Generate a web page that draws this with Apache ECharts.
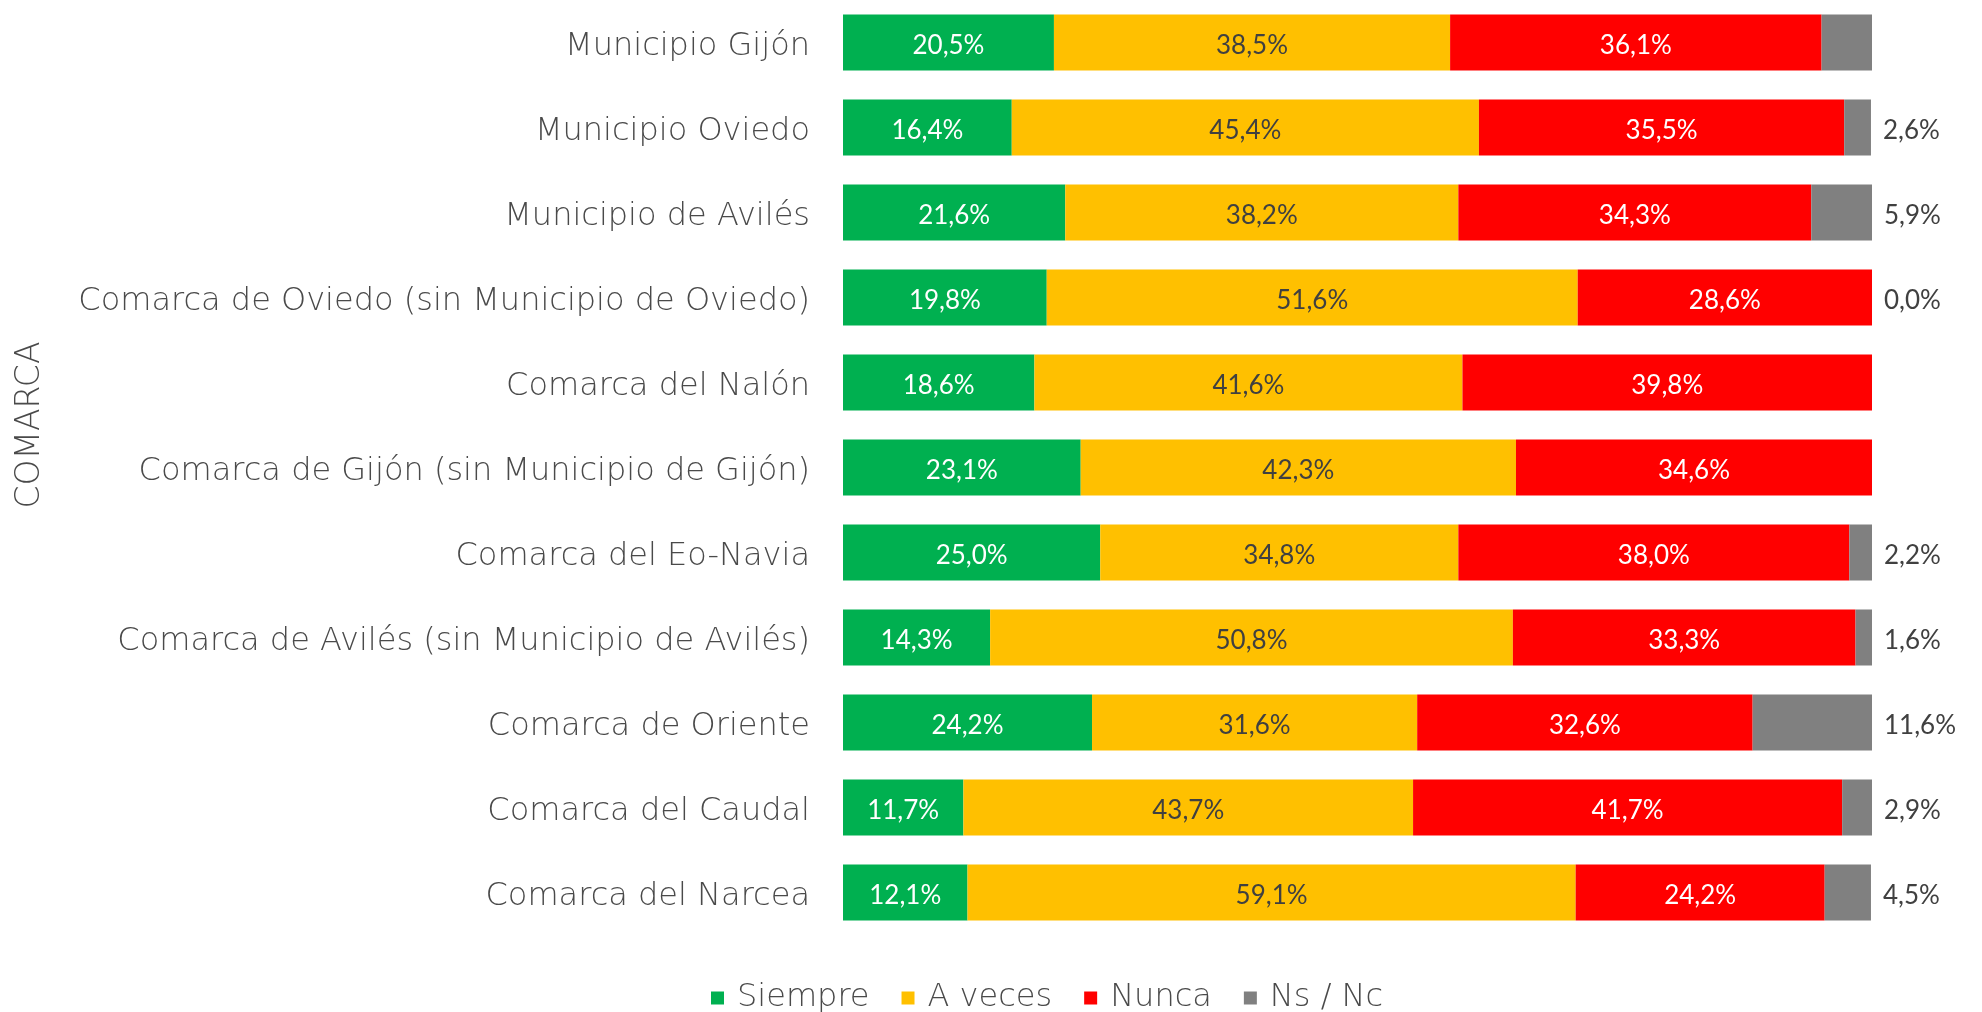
<!DOCTYPE html>
<html>
<head>
<meta charset="utf-8">
<script src="https://cdn.jsdelivr.net/npm/echarts@6/dist/echarts.min.js"></script>
<style>
  html, body { margin: 0; padding: 0; background: #fff; }
  #chart { width: 1982px; height: 1012px; }
</style>
</head>
<body>
<div id="chart"></div>
<script>
const categories = [
  'Municipio Gijón',
  'Municipio Oviedo',
  'Municipio de Avilés',
  'Comarca de Oviedo (sin Municipio de Oviedo)',
  'Comarca del Nalón',
  'Comarca de Gijón (sin Municipio de Gijón)',
  'Comarca del Eo-Navia',
  'Comarca de Avilés (sin Municipio de Avilés)',
  'Comarca de Oriente',
  'Comarca del Caudal',
  'Comarca del Narcea'
];

const siempre = [20.5, 16.4, 21.6, 19.8, 18.6, 23.1, 25.0, 14.3, 24.2, 11.7, 12.1];
const aVeces = [38.5, 45.4, 38.2, 51.6, 41.6, 42.3, 34.8, 50.8, 31.6, 43.7, 59.1];
const nunca = [36.1, 35.5, 34.3, 28.6, 39.8, 34.6, 38.0, 33.3, 32.6, 41.7, 24.2];
const nsNc = [4.9, 2.6, 5.9, 0.0, 0.0, 0.0, 2.2, 1.6, 11.6, 2.9, 4.5];
// which Ns / Nc values get a label in the original
const nsNcShown = [false, true, true, true, false, false, true, true, true, true, true];

// wide light font for the axis texts, Lato for the numbers
const textFont = '"DejaVu Sans", sans-serif';
const textWeight = 200;
const textColor = '#4a4a4a';
const numberFont = 'Lato, sans-serif';

function fmt(v) {
  return v.toFixed(1).replace('.', ',') + '%';
}

function makeSeries(name, values, color, labelColor) {
  return {
    name: name,
    type: 'bar',
    stack: 'total',
    barWidth: '66%',
    itemStyle: { color: color },
    label: {
      show: true,
      position: 'inside',
      offset: [0, 3],
      color: labelColor,
      fontFamily: numberFont,
      fontSize: 26,
      formatter: (p) => fmt(p.value)
    },
    data: values
  };
}

const chart = echarts.init(document.getElementById('chart'));

const nsNcSeries = makeSeries('Ns / Nc', nsNc, '#808080', '#404040');
nsNcSeries.label.position = 'right';
nsNcSeries.label.distance = 12;
nsNcSeries.data = nsNc.map((v, i) => ({
  value: v,
  label: { show: nsNcShown[i] }
}));

chart.setOption({
  animation: false,
  grid: {
    left: 843,
    right: 110,
    top: 0,
    bottom: 77
  },
  legend: {
    left: 706,
    top: 977,
    icon: 'rect',
    itemWidth: 13,
    itemHeight: 13,
    itemGap: 32,
    textStyle: {
      color: textColor,
      fontFamily: textFont,
      fontWeight: textWeight,
      fontSize: 32,
      padding: [0, 0, 0, 8]
    },
    data: ['Siempre', 'A veces', 'Nunca', 'Ns / Nc']
  },
  xAxis: {
    type: 'value',
    min: 0,
    max: 100,
    show: false
  },
  yAxis: {
    type: 'category',
    inverse: true,
    data: categories,
    axisLine: { show: false },
    axisTick: { show: false },
    axisLabel: {
      margin: 33,
      color: textColor,
      fontFamily: textFont,
      fontWeight: textWeight,
      fontSize: 32,
      formatter: (v) => '{c|' + v + '}',
      rich: {
        c: {
          color: textColor,
          fontFamily: textFont,
          fontWeight: textWeight,
          fontSize: 32,
          padding: [8, 0, 0, 0]
        }
      }
    }
  },
  graphic: [{
    type: 'text',
    x: 30,
    y: 425,
    rotation: Math.PI / 2,
    style: {
      text: 'COMARCA',
      fill: textColor,
      font: textWeight + ' 33px ' + textFont,
      align: 'center',
      verticalAlign: 'middle'
    }
  }],
  series: [
    makeSeries('Siempre', siempre, '#00B050', '#ffffff'),
    makeSeries('A veces', aVeces, '#FFC000', '#404040'),
    makeSeries('Nunca', nunca, '#FF0000', '#ffffff'),
    nsNcSeries
  ]
});
</script>
</body>
</html>
